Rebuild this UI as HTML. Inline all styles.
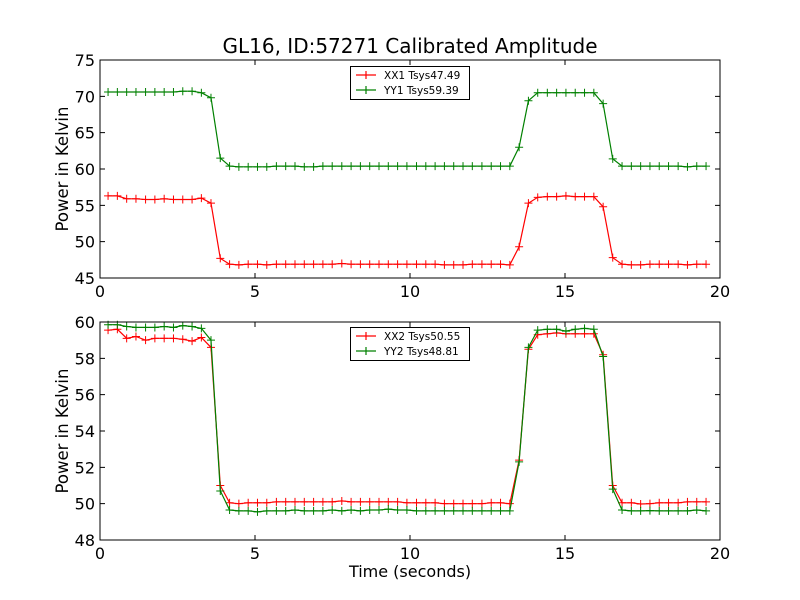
<!DOCTYPE html>
<html><head><meta charset="utf-8"><style>
body{margin:0;background:#fff}
svg{display:block;font-family:"DejaVu Sans","Liberation Sans",sans-serif}
</style></head><body>
<svg id="chart" width="800" height="600" viewBox="0 0 800 600" xmlns="http://www.w3.org/2000/svg">
<rect width="800" height="600" fill="#fff"/>
<text x="410" y="53" font-size="20" text-anchor="middle">GL16, ID:57271 Calibrated Amplitude</text>
<text x="410" y="577" font-size="16" text-anchor="middle">Time (seconds)</text>
<text transform="translate(68,169) rotate(-90)" font-size="16.5" text-anchor="middle">Power in Kelvin</text>
<text transform="translate(68,431) rotate(-90)" font-size="16.5" text-anchor="middle">Power in Kelvin</text>
<g id="g"></g>
</svg>
<script>
const times=[0.26,0.56,0.86,1.16,1.47,1.77,2.07,2.37,2.67,2.97,3.27,3.58,3.88,4.18,4.48,4.78,5.08,5.38,5.69,5.99,6.29,6.59,6.89,7.19,7.49,7.80,8.10,8.40,8.70,9.00,9.30,9.60,9.90,10.21,10.51,10.81,11.11,11.41,11.71,12.01,12.32,12.62,12.92,13.22,13.52,13.82,14.12,14.43,14.73,15.03,15.33,15.63,15.93,16.23,16.54,16.84,17.14,17.44,17.74,18.04,18.34,18.65,18.95,19.25,19.55];
const xx1=[56.3,56.3,55.9,55.9,55.8,55.8,55.9,55.8,55.8,55.8,56.0,55.3,47.7,46.9,46.8,46.9,46.9,46.8,46.9,46.9,46.9,46.9,46.9,46.9,46.9,47.0,46.9,46.9,46.9,46.9,46.9,46.9,46.9,46.9,46.9,46.9,46.8,46.8,46.8,46.9,46.9,46.9,46.9,46.8,49.3,55.3,56.1,56.2,56.2,56.3,56.2,56.2,56.2,54.8,47.8,46.9,46.8,46.8,46.9,46.9,46.9,46.9,46.8,46.9,46.9];
const yy1=[70.6,70.6,70.6,70.6,70.6,70.6,70.6,70.6,70.7,70.7,70.5,69.8,61.5,60.4,60.3,60.3,60.3,60.3,60.4,60.4,60.4,60.3,60.3,60.4,60.4,60.4,60.4,60.4,60.4,60.4,60.4,60.4,60.4,60.4,60.4,60.4,60.4,60.4,60.4,60.4,60.4,60.4,60.4,60.4,63.0,69.4,70.5,70.5,70.5,70.5,70.5,70.5,70.5,69.0,61.4,60.4,60.4,60.4,60.4,60.4,60.4,60.4,60.3,60.4,60.4];
const xx2=[59.55,59.6,59.1,59.2,59.0,59.1,59.1,59.1,59.05,58.95,59.15,58.6,51.0,50.05,50.0,50.05,50.05,50.05,50.1,50.1,50.1,50.1,50.1,50.1,50.1,50.15,50.1,50.1,50.1,50.1,50.1,50.1,50.05,50.05,50.05,50.05,50.0,50.0,50.0,50.0,50.0,50.05,50.05,50.0,52.4,58.5,59.3,59.35,59.4,59.35,59.35,59.35,59.35,58.2,51.0,50.05,50.05,49.98,50.0,50.05,50.05,50.05,50.1,50.1,50.1];
const yy2=[59.85,59.85,59.75,59.7,59.7,59.7,59.75,59.7,59.8,59.75,59.65,59.0,50.7,49.65,49.6,49.6,49.55,49.6,49.6,49.6,49.65,49.6,49.6,49.6,49.65,49.6,49.65,49.6,49.65,49.65,49.7,49.65,49.65,49.6,49.6,49.6,49.6,49.6,49.6,49.6,49.6,49.6,49.6,49.6,52.3,58.6,59.55,59.6,59.6,59.5,59.6,59.65,59.6,58.1,50.8,49.65,49.6,49.6,49.62,49.6,49.6,49.6,49.6,49.65,49.6];
const xTicks=[0,5,10,15,20];
const topYTicks=[45,50,55,60,65,70,75];
const botYTicks=[48,50,52,54,56,58,60];
const topLegend=["XX1 Tsys47.49","YY1 Tsys59.39"];
const botLegend=["XX2 Tsys50.55","YY2 Tsys48.81"];

const NS="http://www.w3.org/2000/svg";
const G=document.getElementById('g');
function mk(tag,attrs,parent){const e=document.createElementNS(NS,tag);for(const k in attrs)e.setAttribute(k,attrs[k]);(parent||G).appendChild(e);return e;}
const L=100,R=720;
function xs(t){return L+(t-0)/(20-0)*(R-L);}
function drawPanel(name,top,bot,ymin,ymax,yTicks,series,legend,legY){
  const ys=v=>bot-(v-ymin)/(ymax-ymin)*(bot-top);
  const g=mk('g',{});
  
  
  series.forEach(s=>{
    const pts=times.map((t,i)=>xs(t).toFixed(1)+','+ys(s.vals[i]).toFixed(1)).join(' ');
    const pl=mk('polyline',{points:pts,fill:'none',stroke:s.color,'stroke-width':1.2},g);
    
    
    times.forEach((t,i)=>{
      const x=xs(t),y=ys(s.vals[i]);
      const m=mk('path',{d:`M${x-4},${y}H${x+4}M${x},${y-4}V${y+4}`,stroke:s.color,'stroke-width':1},g);
      
      
    });
  });
  const fr=mk('rect',{x:L,y:top,width:R-L,height:bot-top,fill:'none',stroke:'#000','stroke-width':1},g);
  
  
  xTicks.forEach(v=>{
    const x=xs(v);
    const tk=mk('path',{d:`M${x},${bot}v-5M${x},${top}v5`,stroke:'#000'},g);
    
    
    const tl=mk('text',{x:x,y:bot+19,'font-size':16,'text-anchor':'middle'},g);
    tl.textContent=v;
    
    
  });
  yTicks.forEach(v=>{
    const y=ys(v);
    const tk=mk('path',{d:`M${L},${y}h5M${R},${y}h-5`,stroke:'#000'},g);
    
    
    const tl=mk('text',{x:L-5,y:y+6,'font-size':16,'text-anchor':'end'},g);
    tl.textContent=v;
    
    
  });
  const lg=mk('g',{},g);
  
  
  mk('rect',{x:350.5,y:legY+0.5,width:119,height:33,fill:'#fff',stroke:'#000','stroke-width':1},lg);
  legend.forEach((txt,i)=>{
    const y=legY+9+i*15,c=series[i].color;
    const e=mk('path',{d:`M356,${y}h20M366,${y-4}v8`,stroke:c,'stroke-width':1.2},lg);
    
    
    const t=mk('text',{x:384,y:y+4,'font-size':10.5},lg);
    t.textContent=txt;
    
    
  });
}
drawPanel('top',60,278,45,75,topYTicks,[{name:'xx1',vals:xx1,color:'#ff0000'},{name:'yy1',vals:yy1,color:'#008000'}],topLegend,66);
drawPanel('bottom',322,540,48,60,botYTicks,[{name:'xx2',vals:xx2,color:'#ff0000'},{name:'yy2',vals:yy2,color:'#008000'}],botLegend,327);
</script>
</body></html>
